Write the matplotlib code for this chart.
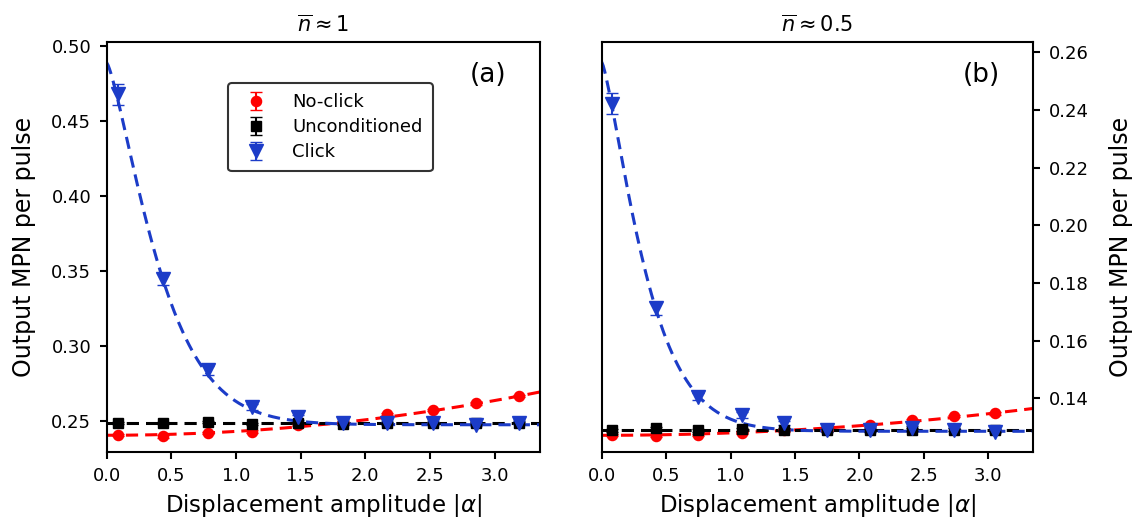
import numpy as np
import matplotlib
matplotlib.use('Agg')
import matplotlib.pyplot as plt

# panel (a): n ~ 1
xa = [0.09, 0.437, 0.78, 1.127, 1.48, 1.83, 2.17, 2.52, 2.86, 3.19]
noclick_a = [0.2407, 0.2397, 0.2422, 0.2429, 0.2473, 0.2485, 0.2545, 0.2573, 0.2618, 0.2667]
uncond_a = [0.2485, 0.2485, 0.2495, 0.2480, 0.2487, 0.2482, 0.2487, 0.2487, 0.2485, 0.2487]
click_a = [0.468, 0.3447, 0.284, 0.2595, 0.2525, 0.2485, 0.2485, 0.2485, 0.2475, 0.249]
click_err_a = [0.007, 0.004, 0.003, 0.002, 0.0015, 0.001, 0.001, 0.001, 0.001, 0.001]
noclick_err_a = [0.0008] * 10
uncond_err_a = [0.0008] * 10

# panel (b): n ~ 0.5
xb = [0.078, 0.421, 0.749, 1.086, 1.417, 1.75, 2.08, 2.405, 2.736, 3.05]
noclick_b = [0.1273, 0.1271, 0.1273, 0.1281, 0.1290, 0.1292, 0.1307, 0.1325, 0.1339, 0.1348]
uncond_b = [0.1290, 0.1296, 0.1290, 0.1293, 0.1292, 0.1290, 0.1290, 0.1292, 0.1291, 0.1290]
click_b = [0.2422, 0.1712, 0.1406, 0.1342, 0.1315, 0.1290, 0.1290, 0.1297, 0.1292, 0.1285]
click_err_b = [0.0038, 0.0023, 0.0012, 0.001, 0.0008, 0.0006, 0.0006, 0.0006, 0.0006, 0.0006]
noclick_err_b = [0.0005] * 10
uncond_err_b = [0.0005] * 10

# fit parameters
fit_a = dict(n0=0.2405, k=0.00257, unc=0.2485, c=0.2475, A=0.2415, s=0.466, q=1.32)
fit_b = dict(n0=0.1272, k=0.00083, unc=0.1292, c=0.1286, A=0.1280, s=0.389, q=1.3)

red = '#ff0000'
blue = '#1c3cc8'

fig = plt.figure(figsize=(11.37, 5.22), dpi=100)
ax1 = fig.add_axes([0.0938, 0.134, 0.381, 0.7854])
ax2 = fig.add_axes([0.5292, 0.134, 0.3796, 0.7854])

xx = np.linspace(0, 3.4, 300)


def draw(ax, x, nc, nce, un, une, cl, cle, p):
    ax.plot(xx, p['n0'] + p['k'] * xx ** 2, '--', color=red, lw=2.2, dashes=(4, 2.3))
    ax.plot(xx, np.full_like(xx, p['unc']), '--', color='black', lw=2.2, dashes=(4, 2.3))
    ax.plot(xx, p['c'] + p['A'] * np.exp(-(xx / p['s']) ** p['q']), '--', color=blue, lw=2.2,
            dashes=(4, 2.3))
    ax.errorbar(x, nc, yerr=nce, fmt='o', color=red, ms=7.3, capsize=4, label='No-click')
    ax.errorbar(x, un, yerr=une, fmt='s', color='black', ms=7, capsize=4, label='Unconditioned')
    ax.errorbar(x, cl, yerr=cle, fmt='v', color=blue, ms=9.5, capsize=4, label='Click')
    ax.set_xlim(0, 3.35)
    ax.set_xlabel(r'Displacement amplitude $|\alpha|$', fontsize=16.5, labelpad=5)
    ax.tick_params(labelsize=13, width=1.5, length=5, pad=6)
    for sp in ax.spines.values():
        sp.set_linewidth(1.5)


draw(ax1, xa, noclick_a, noclick_err_a, uncond_a, uncond_err_a, click_a, click_err_a, fit_a)
draw(ax2, xb, noclick_b, noclick_err_b, uncond_b, uncond_err_b, click_b, click_err_b, fit_b)

ax1.set_ylim(0.2293, 0.5027)
ax1.set_yticks([0.25, 0.30, 0.35, 0.40, 0.45, 0.50])
ax1.set_ylabel('Output MPN per pulse', fontsize=17, labelpad=11)
ax2.set_ylim(0.1214, 0.2635)
ax2.set_yticks([0.14, 0.16, 0.18, 0.20, 0.22, 0.24, 0.26])
ax2.yaxis.tick_right()
ax2.yaxis.set_label_position('right')
ax2.set_ylabel('Output MPN per pulse', fontsize=17, labelpad=15)

ax1.set_title(r'$\overline{n} \approx 1$', fontsize=15, pad=7)
ax2.set_title(r'$\overline{n} \approx 0.5$', fontsize=15, pad=7)
ax1.text(0.88, 0.92, '(a)', transform=ax1.transAxes, fontsize=19, ha='center', va='center')
ax2.text(0.88, 0.92, '(b)', transform=ax2.transAxes, fontsize=19, ha='center', va='center')

leg = ax1.legend(loc='upper left', bbox_to_anchor=(0.26, 0.922), fontsize=13,
                 handletextpad=1.0, borderpad=0.55, labelspacing=0.4)
leg.get_frame().set_edgecolor('#333333')
leg.get_frame().set_linewidth(1.5)
leg.get_frame().set_alpha(1)

fig.savefig('out.png', dpi=100)
